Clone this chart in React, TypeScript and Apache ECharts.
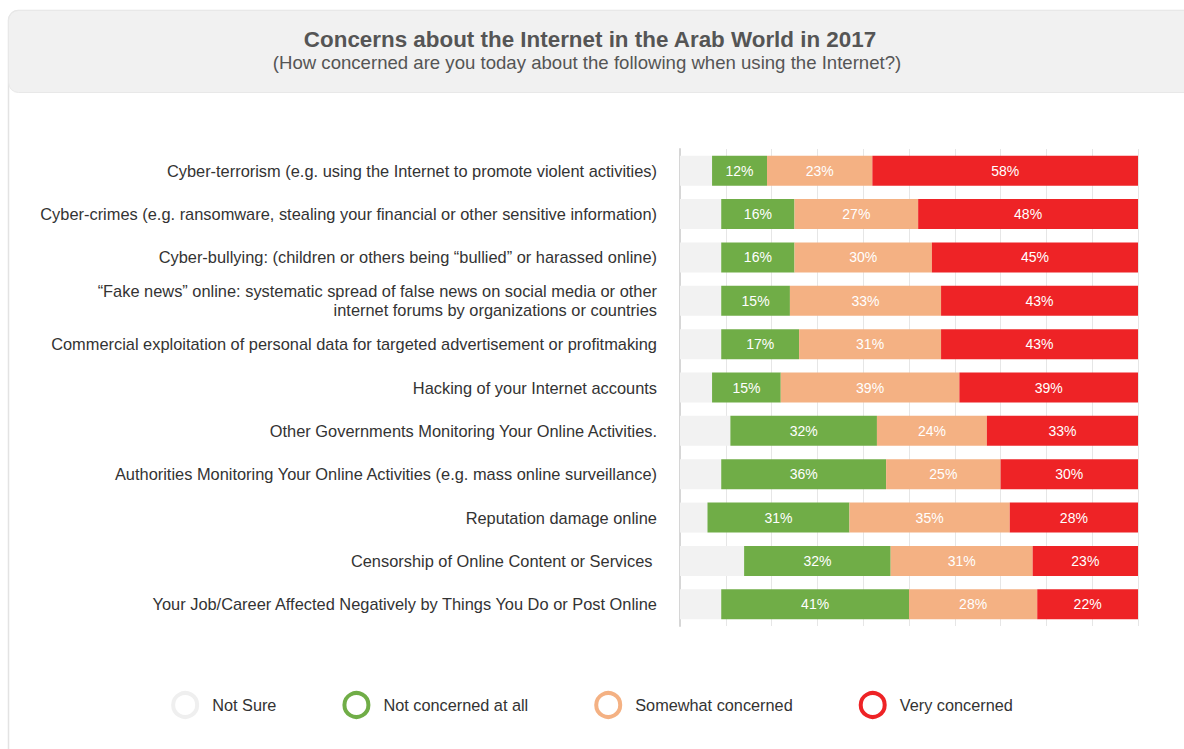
import React, { useEffect, useRef } from "react";
import * as echarts from "echarts";

const categories = [
  "Cyber-terrorism (e.g. using the Internet to promote violent activities)",
  "Cyber-crimes (e.g. ransomware, stealing your financial or other sensitive information)",
  "Cyber-bullying: (children or others being \u201cbullied\u201d or harassed online)",
  "\u201cFake news\u201d online: systematic spread of false news on social media or other\ninternet forums by organizations or countries",
  "Commercial exploitation of personal data for targeted advertisement or profitmaking",
  "Hacking of your Internet accounts",
  "Other Governments Monitoring Your Online Activities.",
  "Authorities Monitoring Your Online Activities (e.g. mass online surveillance)",
  "Reputation damage online",
  "Censorship of Online Content or Services ",
  "Your Job/Career Affected Negatively by Things You Do or Post Online",
];

const notSure = [7, 9, 9, 9, 9, 7, 11, 9, 6, 14, 9];
const notConcerned = [12, 16, 16, 15, 17, 15, 32, 36, 31, 32, 41];
const somewhat = [23, 27, 30, 33, 31, 39, 24, 25, 35, 31, 28];
const very = [58, 48, 45, 43, 43, 39, 33, 30, 28, 23, 22];

const seriesNames = ["Not Sure", "Not concerned at all", "Somewhat concerned", "Very concerned"];
const colors = ["#f2f2f2", "#70ad47", "#f4b183", "#ee2326"];
const legendRing = ["#efefef", "#70ad47", "#f4b183", "#ee2326"];

const FONT = "'Liberation Sans', Arial, Helvetica, sans-serif";

export default function App() {
  const ref = useRef<HTMLDivElement>(null);
  useEffect(() => {
    if (!ref.current) return;
    const chart = echarts.init(ref.current, undefined, { renderer: "svg" });
    const dataSets = [notSure, notConcerned, somewhat, very];
    chart.setOption({
      animation: false,
      textStyle: { fontFamily: FONT },
      graphic: [
        {
          type: "rect",
          z: -10,
          shape: { x: 8.5, y: 10.5, width: 1200, height: 800, r: 10 },
          style: { fill: "#ffffff", stroke: "#e3e3e3", lineWidth: 1.5 },
          silent: true,
        },
        {
          type: "rect",
          z: -9,
          shape: { x: 8.5, y: 10.5, width: 1200, height: 82, r: 10 },
          style: { fill: "#f1f1f1", stroke: "#e8e8e8", lineWidth: 1 },
          silent: true,
        },
        {
          type: "text",
          x: 590,
          y: 39,
          style: {
            text: "Concerns about the Internet in the Arab World in 2017",
            font: `bold 22.4px ${FONT}`,
            fill: "#555555",
            align: "center",
            verticalAlign: "middle",
          },
        },
        {
          type: "text",
          x: 587,
          y: 62,
          style: {
            text: "(How concerned are you today about the following when using the Internet?)",
            font: `18.6px ${FONT}`,
            fill: "#555555",
            align: "center",
            verticalAlign: "middle",
          },
        },
      ],
      grid: { left: 680, right: 46, top: 149, bottom: 123 },
      xAxis: {
        type: "value",
        min: 0,
        max: 100,
        interval: 10,
        axisLabel: { show: false },
        axisLine: { show: false },
        axisTick: { show: false },
        splitLine: { show: true, lineStyle: { color: "#e6e6e6", width: 1 } },
      },
      yAxis: {
        type: "category",
        inverse: true,
        data: categories,
        axisLine: { show: true, lineStyle: { color: "#d6d6d6", width: 2 } },
        axisTick: { show: false },
        axisLabel: {
          fontSize: 16.4,
          color: "#333333",
          margin: 23,
          lineHeight: 19,
          align: "right",
          fontFamily: FONT,
        },
      },
      legend: {
        top: 686,
        left: "center",
        itemWidth: 24,
        itemHeight: 24,
        itemGap: 66,
        icon: "circle",
        textStyle: { fontSize: 16.3, color: "#333333", padding: [0, 0, 0, 10], fontFamily: FONT },
        data: seriesNames.map((n, i) => ({
          name: n,
          itemStyle: { color: "#ffffff", borderColor: legendRing[i], borderWidth: 4 },
        })),
      },
      series: seriesNames.map((n, i) => ({
        name: n,
        type: "bar",
        stack: "total",
        barWidth: 30,
        itemStyle: { color: colors[i] },
        label: {
          show: i > 0,
          formatter: "{c}%",
          color: "#ffffff",
          fontSize: 14,
          fontFamily: FONT,
        },
        emphasis: { disabled: true },
        data: dataSets[i],
      })),
    });
    return () => chart.dispose();
  }, []);
  return (
    <div
      ref={ref}
      style={{ position: "absolute", left: 0, top: 0, width: 1184, height: 749 }}
    />
  );
}
